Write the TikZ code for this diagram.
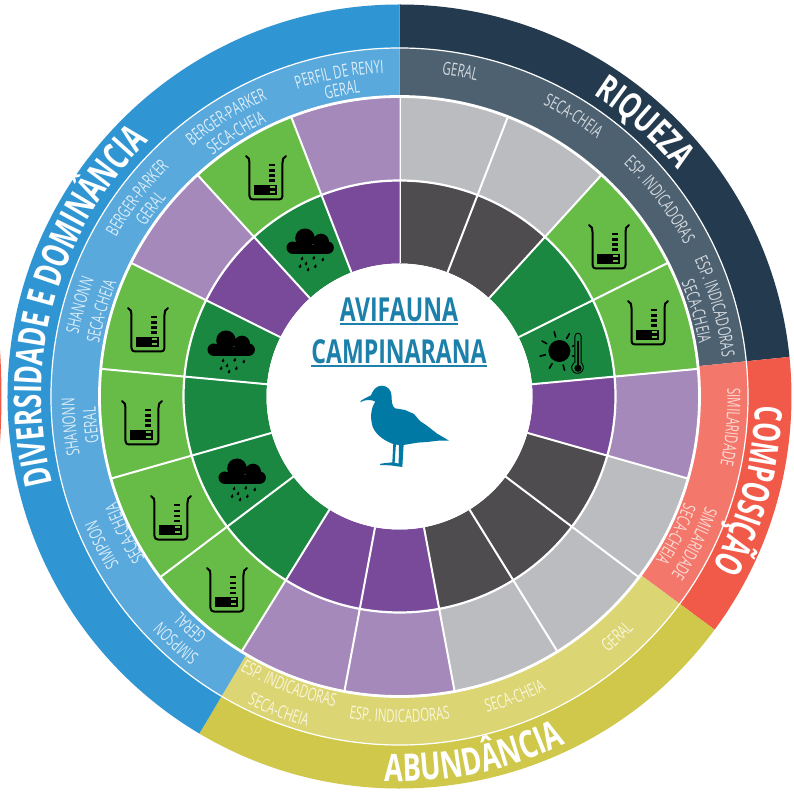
\documentclass[tikz,border=0pt]{standalone}
\usepackage{fontspec}
\usetikzlibrary{decorations.text}
\setmainfont{Open Sans}
\newfontfamily\labfam[FakeStretch=0.64]{Open Sans}
\newfontfamily\bigA[FakeStretch=0.72,UprightFont=* Bold]{Open Sans}
\newfontfamily\bigB[FakeStretch=0.65,UprightFont=* Bold]{Open Sans}
\newfontfamily\bigC[FakeStretch=0.68,UprightFont=* Bold]{Open Sans}
\newfontfamily\titfam[FakeStretch=0.70,UprightFont=* Bold]{Open Sans}
\newcommand\labelfont{\labfam\fontsize{18}{20}\selectfont}
\definecolor{riqO}{HTML}{243B4F}\definecolor{riqR}{HTML}{4E6170}\definecolor{riqT}{HTML}{D3D9DE}
\definecolor{comO}{HTML}{F15A48}\definecolor{comR}{HTML}{F4776C}\definecolor{comT}{HTML}{FBDDD8}
\definecolor{abuO}{HTML}{CFC84A}\definecolor{abuR}{HTML}{DCD573}\definecolor{abuT}{HTML}{F8F6DC}
\definecolor{divO}{HTML}{3096D3}\definecolor{divR}{HTML}{59A9DC}\definecolor{divT}{HTML}{DCEDF8}
\definecolor{lgray}{HTML}{BBBCBF}\definecolor{dgray}{HTML}{4F4C4F}
\definecolor{purp}{HTML}{7A4A9A}\definecolor{lpurp}{HTML}{A489BA}
\definecolor{lgreen}{HTML}{67BB47}\definecolor{dgreen}{HTML}{1A8840}
\definecolor{titc}{HTML}{1C80AA}\definecolor{gullc}{HTML}{0079A5}
% annular sector: r1 r2 a1 a2
\newcommand{\annsec}[4]{(#3:#1 pt) arc[start angle=#3,end angle=#4,radius=#1 pt] -- (#4:#2 pt) arc[start angle=#4,end angle=#3,radius=#2 pt] -- cycle}
\newcommand{\arccw}[5]{\path[decorate,decoration={text along path,text align=center,text={|#1\color{#2}|#5}}] ({#3+50}:#4 pt) arc[start angle=#3+50,end angle=#3-50,radius=#4 pt];}
\newcommand{\arcccw}[5]{\path[decorate,decoration={text along path,text align=center,text={|#1\color{#2}|#5}}] ({#3-50}:#4 pt) arc[start angle=#3-50,end angle=#3+50,radius=#4 pt];}
\tikzset{
  x=1pt,y=1pt,
  pics/beaker/.style={code={
    \draw[black,line width=2pt,line cap=round,line join=round]
      (-20,22) .. controls (-17,21) and (-16.5,18) .. (-16.5,15) -- (-16.5,-18) .. controls (-16.5,-20.5) and (-15,-21.5) .. (-13,-21.5)
      -- (13,-21.5) .. controls (15,-21.5) and (16.5,-20.5) .. (16.5,-18) -- (16.5,15) .. controls (16.5,18) and (17,21) .. (20,22);
    \fill[black] (-11.7,-16.7) rectangle (10.7,-7);
    \fill[lgreen] (4,-10) rectangle (9,-7.8);
    \fill[lgreen] (4,-15) rectangle (9,-12.7);
    \foreach \yy in {13,7.3,2.3,-2.7}{\fill[black] (3.3,\yy-1.2) rectangle (9,\yy+1.2);}
  }},
  pics/raincloud/.style={code={
    \fill[black] (-17.3,2.3) circle[radius=6.2] (17.7,2.3) circle[radius=6.2]
      (-5,11.7) circle[radius=9.8] (11,8.3) circle[radius=8];
    \fill[black] (-17.3,-3.9) rectangle (17.7,5);
    \foreach \px/\py in {-10/-16.7,-8/-9,-4/-14,3.7/-8.3,-2/-20,5.3/-16.7,12.7/-10}{
      \fill[black] (\px-1.4,\py) .. controls (\px-1.4,\py-1.9) and (\px+1.4,\py-1.9) .. (\px+1.4,\py) -- (\px+.6,\py+2.6) -- cycle;
    }
  }},
  pics/sunthermo/.style={code={
    \fill[black] (-7.3,2.3) circle[radius=11];
    \foreach \ang in {105,60,150,195,240,285}{
      \draw[black,line width=1.6pt,line cap=round] ([shift={(\ang:14.5)}]-7.3,2.3) -- ([shift={(\ang:20)}]-7.3,2.3);
    }
    \foreach \ang in {20,-20}{
      \draw[black,line width=1.6pt,line cap=round] ([shift={(\ang:14)}]-7.3,2.3) -- ([shift={(\ang:15.5)}]-7.3,2.3);
    }
    \draw[black,line width=.9pt] (8.2,-9.5) -- (8.2,17) arc[start angle=180,end angle=0,radius=3.1] -- (14.4,-9.5) arc[start angle=52,end angle=-232,radius=5.9] ;
    \draw[black,line width=1.8pt] (11.3,12) -- (11.3,-15);
    \fill[black] (11.3,-15) circle[radius=3.6];
  }}
}
\begin{document}
\begin{tikzpicture}
\useasboundingbox (-399.5,-397.5) rectangle (394.5,396.5);
\fill[white] (-399.5,-397.5) rectangle (394.5,396.5);
% sliver of neighbouring circle at the left edge
\fill[comO] (-399.5,46.5) .. controls (-397.5,15) and (-397.5,-15) .. (-399.5,-46.5) -- cycle;
% outer bands
\def\st{21.17647}
\fill[riqO] \annsec{348}{392}{90}{5.8};
\fill[comO] \annsec{348}{392}{5.8}{-36.5};
\fill[abuO] \annsec{348}{392}{-36.5}{-120.7};
\fill[divO] \annsec{348}{392}{-120.7}{-270};
% label rings
\fill[riqR] \annsec{299}{349}{90}{5.8};
\fill[comR] \annsec{299}{349}{5.8}{-36.5};
\fill[abuR] \annsec{299}{349}{-36.5}{-120.7};
\fill[divR] \annsec{299}{349}{-120.7}{-270};
\draw[white,line width=1.2pt] (0,0) circle[radius=348.5pt];
% cells
\foreach \k/\co/\ci in {0/lgray/dgray,1/lgray/dgray,2/lgreen/dgreen,3/lgreen/dgreen,4/lpurp/purp,5/lgray/dgray,6/lgray/dgray,7/lgray/dgray,8/lpurp/purp,9/lpurp/purp,10/lgreen/dgreen,11/lgreen/dgreen,12/lgreen/dgreen,13/lgreen/dgreen,14/lpurp/purp,15/lgreen/dgreen,16/lpurp/purp}{
  \pgfmathsetmacro\aa{90-\k*\st}
  \pgfmathsetmacro\ab{90-(\k+1)*\st}
  \fill[\co] \annsec{216}{299}{\aa}{\ab};
  \fill[\ci] \annsec{133}{216}{\aa}{\ab};
  \draw[white,line width=2pt] (\aa:133pt) -- (\aa:299pt);
}
\draw[white,line width=2.8pt] (0,0) circle[radius=300pt];
\draw[white,line width=2.2pt] (0,0) circle[radius=216pt];
\fill[white] (0,0) circle[radius=133pt];
% icons
\pic at (209.5,149.5) {beaker};
\pic at (248.5,73.5) {beaker};
\pic at (-133.5,218.5) {beaker};
\pic at (-251.5,66.5) {beaker};
\pic at (-257.5,-26.5) {beaker};
\pic at (-228.5,-121.5) {beaker};
\pic at (-172.5,-193.5) {beaker};
\pic at (-89.5,146.5) {raincloud};
\pic at (-168.5,44.5) {raincloud};
\pic at (-157.5,-83.5) {raincloud};
\pic at (167.2,43.2) {sunthermo};
% big titles
\arccw{\bigA\fontsize{36}{40}\selectfont}{white}{48.2}{358.5}{RIQUEZA}
\arccw{\bigB\fontsize{38}{40}\selectfont}{white}{-15}{356}{COMPOSIÇÃO}
\arcccw{\bigA\fontsize{38}{40}\selectfont}{white}{-78.3}{385}{ABUNDÂNCIA}
\arccw{\bigC\fontsize{38}{40}\selectfont}{white}{164.2}{358}{DIVERSIDADE E DOMINÂNCIA}
% labels: riqueza
\arccw{\labelfont}{riqT}{79.4}{325}{GERAL}
\arccw{\labelfont}{riqT}{58.2}{325}{SECA-CHEIA}
\arccw{\labelfont}{riqT}{37.06}{323}{ESP. INDICADORAS}
\arccw{\labelfont}{riqT}{15.9}{325}{ESP. INDICADORAS}
\arccw{\labelfont}{riqT}{16.0}{304}{SECA-CHEIA}
% composicao
\arccw{\labelfont}{comT}{-5.3}{328}{SIMILARIDADE}
\arccw{\labelfont}{comT}{-26.5}{325}{SIMILARIDADE}
\arccw{\labelfont}{comT}{-26.5}{304}{SECA-CHEIA}
% abundancia
\arcccw{\labelfont}{abuT}{-47.8}{330}{GERAL}
\arcccw{\labelfont}{abuT}{-69}{328}{SECA-CHEIA}
\arcccw{\labelfont}{abuT}{-90}{326}{ESP. INDICADORAS}
\arcccw{\labelfont}{abuT}{-111}{317}{ESP. INDICADORAS}
\arcccw{\labelfont}{abuT}{-111}{343}{SECA-CHEIA}
% diversidade
\arccw{\labelfont}{divT}{-132.2}{327}{SIMPSON}
\arccw{\labelfont}{divT}{-132.2}{306}{GERAL}
\arccw{\labelfont}{divT}{-153.5}{327}{SIMPSON}
\arccw{\labelfont}{divT}{-153.5}{302}{SECA-CHEIA}
\arccw{\labelfont}{divT}{-174.7}{325}{SHANONN}
\arccw{\labelfont}{divT}{-174.7}{304}{GERAL}
\arccw{\labelfont}{divT}{164.1}{327}{SHANONN}
\arccw{\labelfont}{divT}{164.1}{305}{SECA-CHEIA}
\arccw{\labelfont}{divT}{142.9}{325}{BERGER-PARKER}
\arccw{\labelfont}{divT}{142.9}{306}{GERAL}
\arccw{\labelfont}{divT}{121.8}{325}{BERGER-PARKER}
\arccw{\labelfont}{divT}{121.8}{305}{SECA-CHEIA}
\arccw{\labelfont}{divT}{100.6}{324}{PERFIL DE RENYI}
\arccw{\labelfont}{divT}{100.6}{306}{GERAL}
% centre title
\node[inner sep=0pt,text=titc,font={\titfam\fontsize{33}{36}\selectfont}] (av) at (-0.5,87) {AVIFAUNA};
\node[inner sep=0pt,text=titc,font={\titfam\fontsize{33}{36}\selectfont}] (ca) at (-0.5,45) {CAMPINARANA};
\draw[titc,line width=1.6pt] ([yshift=-3pt]av.base west) -- ([yshift=-3pt]av.base east);
\draw[titc,line width=1.6pt] ([yshift=-3pt]ca.base west) -- ([yshift=-3pt]ca.base east);
% gull
\begin{scope}[shift={(-59.5,26.5)},x=0.3333pt,y=-0.3333pt]
\fill[gullc] (60,97) .. controls (64,88) and (78,84) .. (93,76)
  .. controls (98,62) and (108,47) .. (125,47)
  .. controls (142,47) and (155,60) .. (155,80)
  .. controls (155,95) and (156,108) .. (165,115)
  -- (195,120) -- (222,132) -- (240,153) -- (262,168) -- (290,190) -- (327,212)
  -- (295,212) -- (262,216) -- (232,218) -- (190,225) -- (165,224)
  .. controls (140,215) and (110,200) .. (98,170)
  .. controls (90,145) and (92,115) .. (106,95)
  .. controls (95,88) and (75,88) .. (60,97) -- cycle;
\fill[gullc] (160,220) -- (168,220) -- (164,278) -- (176,281) -- (177,222) -- (191,222) -- (187,291) -- (150,286) -- (120,285) -- (122,281) -- (157,277) -- cycle;
\end{scope}
\end{tikzpicture}
\end{document}
